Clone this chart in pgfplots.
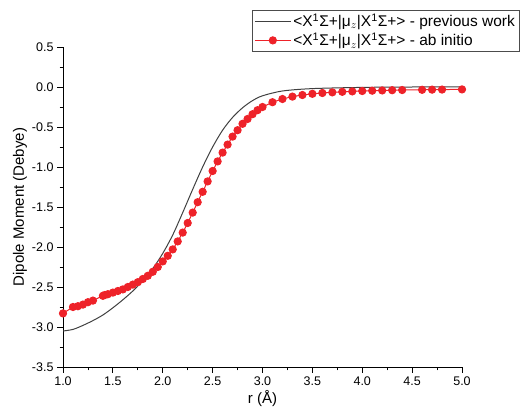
\documentclass[border=0pt]{standalone}
\usepackage{pgfplots}
\pgfplotsset{compat=1.18}
\usepackage{fontspec}
\setmainfont{Liberation Sans}
\definecolor{myred}{HTML}{EE2229}
\begin{document}
\begin{tikzpicture}[x=1pt,y=1pt]
\useasboundingbox (0,0) rectangle (528,415);
\begin{axis}[at={(63pt,48pt)},anchor=south west,scale only axis,width=399pt,height=320pt,
 xmin=1,xmax=5,ymin=-3.5,ymax=0.5,
 axis x line*=bottom, axis y line*=left, axis line style={-,line width=0.8pt},
 xtick={1,1.5,...,5}, ytick={-3.5,-3,...,0.5}, minor x tick num=1, minor y tick num=1,
 tick align=outside, tick style={black,line width=0.8pt}, major tick length=6pt, minor tick length=3.5pt,
 xticklabel style={/pgf/number format/.cd,fixed,fixed zerofill,precision=1},
 yticklabel style={/pgf/number format/.cd,fixed,fixed zerofill,precision=1},
 /pgf/number format/assume math mode=true,
 ticklabel style={font=\fontsize{12.5}{14}\selectfont},
 xlabel={r (Å)}, ylabel={Dipole Moment (Debye)},
 xlabel style={yshift=2pt}, ylabel style={yshift=-2pt},
 label style={font=\fontsize{15}{17}\selectfont},
 legend image code/.code={\draw[#1] (0pt,0pt) -- (36pt,0pt); \draw[#1,only marks] plot coordinates {(18pt,0pt)};},
 legend style={at={(rel axis cs:0.474,1.116)},anchor=north west,font=\fontsize{15.5}{18}\selectfont,draw=black!70,inner sep=2pt,row sep=1pt},
 legend cell align=left]
\addplot[color=black!75,line width=1pt,smooth] coordinates {
(1.0,-3.05)(1.1,-3.03)(1.2,-2.98)(1.3,-2.92)(1.4,-2.85)(1.5,-2.76)(1.6,-2.66)(1.7,-2.55)(1.8,-2.42)(1.9,-2.27)(2.0,-2.08)(2.1,-1.85)(2.2,-1.57)(2.3,-1.28)(2.4,-1.0)(2.5,-0.75)(2.6,-0.54)(2.7,-0.38)(2.8,-0.26)(2.9,-0.17)(3.0,-0.11)(3.2,-0.05)(3.5,-0.02)(4.0,-0.005)(4.5,0)(5.0,0)};
\addlegendentry{<X\textsuperscript{1}Σ+|μ$_z$|X\textsuperscript{1}Σ+> - previous work}
\addplot[color=myred,line width=1pt,mark=*,mark size=3.6pt,mark options={fill=myred}] coordinates {
(1.0,-2.83)(1.1,-2.75)(1.15,-2.74)(1.2,-2.72)(1.25,-2.69)(1.3,-2.67)(1.4,-2.61)(1.42,-2.60)(1.45,-2.59)(1.5,-2.57)(1.55,-2.55)(1.6,-2.53)(1.65,-2.50)(1.7,-2.47)(1.75,-2.44)(1.8,-2.40)(1.85,-2.36)(1.9,-2.31)(1.95,-2.25)(2.0,-2.18)(2.05,-2.11)(2.1,-2.03)(2.15,-1.93)(2.2,-1.82)(2.25,-1.70)(2.3,-1.57)(2.35,-1.44)(2.4,-1.31)(2.45,-1.18)(2.5,-1.05)(2.55,-0.93)(2.6,-0.82)(2.65,-0.72)(2.7,-0.62)(2.75,-0.54)(2.8,-0.46)(2.85,-0.40)(2.9,-0.34)(2.95,-0.29)(3.0,-0.25)(3.1,-0.19)(3.2,-0.15)(3.3,-0.12)(3.4,-0.10)(3.5,-0.085)(3.6,-0.075)(3.7,-0.067)(3.8,-0.06)(3.9,-0.055)(4.0,-0.05)(4.1,-0.046)(4.2,-0.043)(4.3,-0.04)(4.4,-0.038)(4.6,-0.035)(4.7,-0.033)(4.8,-0.032)(5.0,-0.03)};
\addlegendentry{<X\textsuperscript{1}Σ+|μ$_z$|X\textsuperscript{1}Σ+> - ab initio}
\end{axis}
\end{tikzpicture}
\end{document}
